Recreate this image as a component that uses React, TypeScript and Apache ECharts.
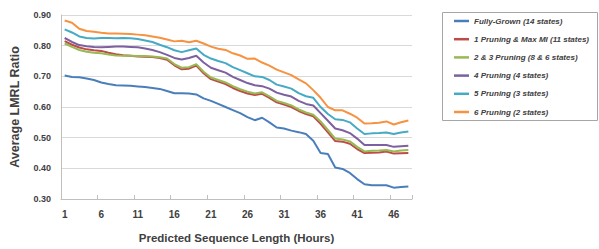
import React, { useEffect, useRef } from "react";
import * as echarts from "echarts";

const hours: string[] = Array.from({ length: 48 }, (_, i) => String(i + 1));

const seriesNames: string[] = [
  "Fully-Grown (14 states)",
  "1 Pruning & Max MI (11 states)",
  "2 & 3 Pruning (8 & 6 states)",
  "4 Pruning (4 states)",
  "5 Pruning (3 states)",
  "6 Pruning (2 states)",
];

const fullyGrown: number[] = [
  0.703, 0.698, 0.697, 0.693, 0.688, 0.68, 0.675, 0.671, 0.67, 0.669,
  0.667, 0.665, 0.662, 0.659, 0.652, 0.645, 0.645, 0.644, 0.641, 0.628,
  0.62, 0.61, 0.6, 0.59, 0.58, 0.567, 0.557, 0.565, 0.55, 0.533,
  0.53, 0.523, 0.518, 0.512, 0.49, 0.45, 0.447, 0.403, 0.398, 0.385,
  0.365, 0.348, 0.345, 0.345, 0.345, 0.337, 0.339, 0.341,
];

const pruning1: number[] = [
  0.815, 0.803, 0.794, 0.788, 0.785, 0.783, 0.777, 0.772, 0.769, 0.767,
  0.765, 0.764, 0.763, 0.76, 0.754, 0.736, 0.723, 0.725, 0.735, 0.71,
  0.691, 0.683, 0.675, 0.662, 0.652, 0.644, 0.639, 0.643, 0.63, 0.615,
  0.608, 0.6, 0.587, 0.577, 0.57, 0.545, 0.517, 0.489, 0.487, 0.48,
  0.463, 0.45, 0.451, 0.452, 0.455, 0.448, 0.449, 0.45,
];

const pruning23: number[] = [
  0.807, 0.796, 0.786, 0.78, 0.777, 0.775, 0.771, 0.768, 0.767, 0.767,
  0.766, 0.766, 0.765, 0.762, 0.758, 0.74, 0.728, 0.73, 0.74, 0.715,
  0.696, 0.688, 0.68, 0.668, 0.658, 0.65, 0.644, 0.648, 0.635, 0.62,
  0.613, 0.605, 0.592, 0.582, 0.575, 0.553, 0.525, 0.497, 0.494, 0.488,
  0.47, 0.455, 0.457, 0.458, 0.46, 0.455, 0.458, 0.46,
];

const pruning4: number[] = [
  0.825, 0.812, 0.802, 0.798, 0.796, 0.795, 0.796, 0.797, 0.797, 0.796,
  0.795, 0.791, 0.786, 0.779, 0.77, 0.76, 0.755, 0.76, 0.767, 0.745,
  0.728, 0.72, 0.712, 0.698, 0.688, 0.678, 0.671, 0.668, 0.66, 0.647,
  0.64, 0.634, 0.62, 0.61, 0.605, 0.58, 0.555, 0.53, 0.524, 0.515,
  0.497, 0.476, 0.476, 0.476, 0.476, 0.47, 0.472, 0.474,
];

const pruning5: number[] = [
  0.853, 0.843, 0.83, 0.825, 0.823, 0.825, 0.825, 0.824, 0.825, 0.824,
  0.822, 0.817, 0.812, 0.803, 0.795, 0.785, 0.779, 0.785, 0.791, 0.77,
  0.758, 0.75, 0.743, 0.73, 0.72, 0.71, 0.7, 0.698, 0.688, 0.673,
  0.667, 0.66, 0.645, 0.635, 0.63, 0.6, 0.577, 0.56, 0.558, 0.55,
  0.53, 0.512, 0.514, 0.515, 0.517, 0.512, 0.517, 0.52,
];

const pruning6: number[] = [
  0.882, 0.875, 0.855, 0.848, 0.845, 0.842, 0.84, 0.84, 0.839, 0.838,
  0.836, 0.834, 0.83, 0.826, 0.82, 0.814, 0.816, 0.811, 0.816, 0.807,
  0.797, 0.79, 0.786, 0.775, 0.768, 0.757, 0.758, 0.745, 0.735, 0.722,
  0.713, 0.704, 0.69, 0.677, 0.655, 0.63, 0.6, 0.589, 0.589, 0.578,
  0.565, 0.546, 0.547, 0.549, 0.553, 0.543, 0.55, 0.556,
];

const seriesData: number[][] = [fullyGrown, pruning1, pruning23, pruning4, pruning5, pruning6];
const colors: string[] = ["#4a7ebb", "#be4b48", "#98b954", "#7d60a0", "#46aac5", "#f69240"];

export default function App() {
  const ref = useRef<HTMLDivElement>(null);

  useEffect(() => {
    if (!ref.current) return;
    const chart = echarts.init(ref.current, undefined, { renderer: "svg" });
    const font = "'Liberation Sans', Arial, sans-serif";
    chart.setOption({
      animation: false,
      color: colors,
      grid: { left: 58, right: 187, top: 15, bottom: 41, containLabel: false },
      legend: {
        orient: "vertical",
        left: 454,
        top: 16,
        icon: "rect",
        itemWidth: 15,
        itemHeight: 2.5,
        itemGap: 8.2,
        padding: 0,
        textStyle: {
          fontFamily: font,
          fontSize: 8,
          fontStyle: "italic",
          fontWeight: "bold",
          color: "#404040",
          lineHeight: 10,
        },
        data: seriesNames,
      },
      graphic: [
        {
          type: "rect",
          shape: { x: 442.5, y: 12.5, width: 155, height: 108 },
          style: { fill: "none", stroke: "#a6a6a6", lineWidth: 1 },
          silent: true,
          z: -1,
        },
      ],
      xAxis: {
        type: "category",
        data: hours,
        boundaryGap: true,
        name: "Predicted Sequence Length (Hours)",
        nameLocation: "middle",
        nameGap: 33,
        nameTextStyle: { fontFamily: font, fontSize: 11.5, fontWeight: "bold", color: "#404040" },
        axisLine: { show: true, lineStyle: { color: "#bfbfbf", width: 1 } },
        axisTick: { show: true, interval: 4, inside: true, length: 4, lineStyle: { color: "#bfbfbf" } },
        axisLabel: { interval: 4, margin: 10, fontFamily: font, fontSize: 10, fontWeight: "bold", color: "#404040" },
        splitLine: { show: false },
      },
      yAxis: {
        type: "value",
        min: 0.3,
        max: 0.9,
        interval: 0.1,
        name: "Average LMRL Ratio",
        nameLocation: "middle",
        nameGap: 40,
        nameTextStyle: { fontFamily: font, fontSize: 12.5, fontWeight: "bold", color: "#404040" },
        axisLine: { show: true, lineStyle: { color: "#bfbfbf", width: 1 } },
        axisTick: { show: false },
        axisLabel: {
          margin: 10,
          fontFamily: font,
          fontSize: 9,
          fontWeight: "bold",
          color: "#404040",
          formatter: (v: number) => v.toFixed(2),
        },
        splitLine: { show: true, lineStyle: { color: "#d9d9d9", width: 1 } },
      },
      series: seriesNames.map((name, i) => ({
        name,
        type: "line",
        data: seriesData[i],
        symbol: "none",
        showSymbol: false,
        lineStyle: { width: 2, color: colors[i] },
        itemStyle: { color: colors[i] },
      })),
    });
    return () => chart.dispose();
  }, []);

  return (
    <div
      ref={ref}
      style={{ position: "fixed", left: 0, top: 0, width: 599, height: 249, background: "#ffffff" }}
    />
  );
}
